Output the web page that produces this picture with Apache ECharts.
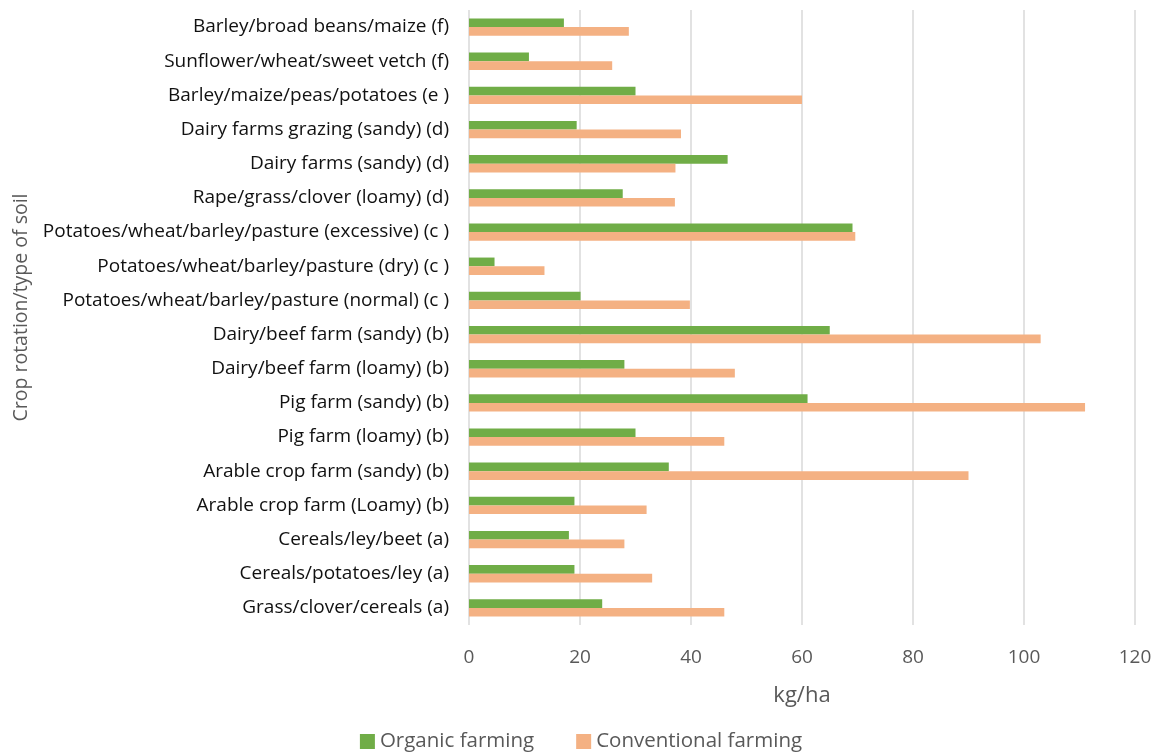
<!DOCTYPE html>
<html>
<head>
<meta charset="utf-8">
<title>Nitrogen surplus by crop rotation</title>
<script src="https://cdn.jsdelivr.net/npm/echarts@6/dist/echarts.min.js"></script>
<style>
  html, body { margin: 0; padding: 0; background: #ffffff; }
  #chart { width: 1162px; height: 755px; }
</style>
</head>
<body>
<div id="chart"></div>
<script>
// Crop rotations / soil types, listed top to bottom
const categories = [
  'Barley/broad beans/maize (f)',
  'Sunflower/wheat/sweet vetch (f)',
  'Barley/maize/peas/potatoes (e )',
  'Dairy farms grazing (sandy) (d)',
  'Dairy farms (sandy) (d)',
  'Rape/grass/clover (loamy) (d)',
  'Potatoes/wheat/barley/pasture (excessive) (c )',
  'Potatoes/wheat/barley/pasture (dry) (c )',
  'Potatoes/wheat/barley/pasture (normal) (c )',
  'Dairy/beef farm (sandy) (b)',
  'Dairy/beef farm (loamy) (b)',
  'Pig farm (sandy) (b)',
  'Pig farm (loamy) (b)',
  'Arable crop farm (sandy) (b)',
  'Arable crop farm (Loamy) (b)',
  'Cereals/ley/beet (a)',
  'Cereals/potatoes/ley (a)',
  'Grass/clover/cereals (a)'
];

// kg/ha, same order as categories
const organic = [17.1, 10.8, 30, 19.4, 46.6, 27.7, 69.1, 4.6, 20.1, 65, 28, 61, 30, 36, 19, 18, 19, 24];
const conventional = [28.8, 25.8, 60, 38.2, 37.2, 37.1, 69.6, 13.6, 39.8, 103, 47.9, 111, 46, 90, 32, 28, 33, 46];

const xTicks = { min: 0, max: 120, interval: 20 };

const FONT = '"Open Sans", "Noto Sans", sans-serif';
const GREY = '#595959';

const chart = echarts.init(document.getElementById('chart'), null, { renderer: 'canvas' });

chart.setOption({
  animation: false,
  textStyle: { fontFamily: FONT },
  grid: { left: 469, right: 27, top: 10, bottom: 130, containLabel: false },
  legend: {
    top: 726,
    left: 'center',
    data: ['Organic farming', 'Conventional farming'],
    icon: 'rect',
    itemWidth: 15,
    itemHeight: 15,
    itemGap: 42,
    textStyle: { fontFamily: FONT, fontSize: 20.5, color: GREY, padding: [0, 0, 0, 0] }
  },
  xAxis: {
    type: 'value',
    min: xTicks.min,
    max: xTicks.max,
    interval: xTicks.interval,
    name: 'kg/ha',
    nameLocation: 'middle',
    nameGap: 60,
    nameTextStyle: { fontFamily: FONT, fontSize: 22, color: GREY },
    axisLine: { show: false },
    axisTick: { show: false },
    axisLabel: { fontFamily: FONT, fontSize: 19, color: GREY, margin: 23 },
    splitLine: { show: true, lineStyle: { color: '#D9D9D9', width: 1.5 } }
  },
  yAxis: {
    type: 'category',
    inverse: true,
    data: categories,
    name: 'Crop rotation/type of soil',
    nameLocation: 'middle',
    nameRotate: 90,
    nameGap: 438,
    nameTextStyle: { fontFamily: FONT, fontSize: 19.5, color: GREY, padding: [0, 0, 0, 20] },
    axisLine: { show: false },
    axisTick: { show: false },
    axisLabel: { fontFamily: FONT, fontSize: 19, color: '#111111', margin: 20 },
    splitLine: { show: false }
  },
  series: [
    {
      name: 'Organic farming',
      type: 'bar',
      data: organic,
      barWidth: 8.7,
      barGap: '0%',
      itemStyle: { color: '#70AD47' }
    },
    {
      name: 'Conventional farming',
      type: 'bar',
      data: conventional,
      barWidth: 8.7,
      barGap: '0%',
      itemStyle: { color: '#F4B183' }
    }
  ]
});
</script>
</body>
</html>
